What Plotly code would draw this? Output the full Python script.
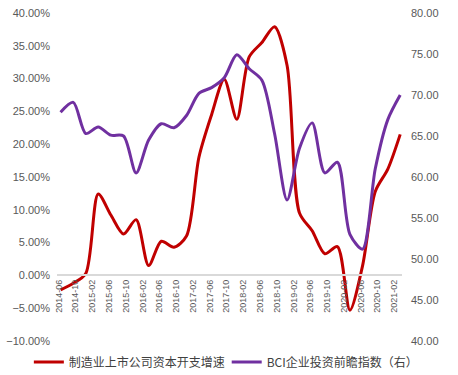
import plotly.graph_objects as go

dates = ["2014-06-15", "2014-09-15", "2014-12-15", "2015-03-15", "2015-06-15", "2015-09-15",
         "2015-12-15", "2016-03-15", "2016-06-15", "2016-09-15", "2016-12-15", "2017-03-15",
         "2017-06-15", "2017-09-15", "2017-12-15", "2018-03-15", "2018-06-15", "2018-09-15",
         "2018-12-15", "2019-03-15", "2019-06-15", "2019-09-15", "2019-12-15", "2020-03-15",
         "2020-06-15", "2020-09-15", "2020-12-15", "2021-03-15"]

capex_growth = [-2.2, -1.2, 0.3, 12.4, 9.2, 6.3, 8.5, 1.5, 5.2, 4.3, 6.0, 18.0,
                24.5, 29.9, 23.8, 33.3, 35.5, 37.9, 32.0, 9.5, 6.8, 3.3, 4.4, -5.3,
                1.5, 12.8, 16.2, 21.5]

bci_index = [67.9, 69.1, 65.3, 66.1, 65.1, 65.0, 60.5, 64.5, 66.5, 66.0, 67.5, 70.2,
             70.9, 72.1, 74.9, 73.2, 71.8, 65.3, 57.2, 63.5, 66.6, 60.5, 61.8, 53.0,
             51.2, 61.0, 67.0, 70.0]

name_red = "制造业上市公司资本开支增速"
name_purple = "BCI企业投资前瞻指数（右）"

fig = go.Figure()
fig.add_trace(go.Scatter(x=dates, y=[v / 100 for v in capex_growth], name=name_red,
                         mode="lines", line=dict(color="#C00000", width=3, shape="spline", smoothing=0.8),
                         yaxis="y", legend="legend"))
fig.add_trace(go.Scatter(x=dates, y=bci_index, name=name_purple,
                         mode="lines", line=dict(color="#7030A0", width=3, shape="spline", smoothing=0.8),
                         yaxis="y2", legend="legend2"))

tick_font = dict(family="Liberation Sans, Arial", size=11, color="#595959")
legend_font = dict(family="Noto Sans CJK SC", size=12, color="#404040")

fig.update_layout(
    width=458, height=375,
    margin=dict(l=57, r=56, t=13, b=34, autoexpand=False),
    paper_bgcolor="white", plot_bgcolor="white",
    showlegend=True,
    legend=dict(orientation="h", xref="container", yref="container",
                x=0.063, xanchor="left", y=0.035, yanchor="middle",
                font=legend_font, itemwidth=30),
    legend2=dict(orientation="h", xref="container", yref="container",
                 x=0.495, xanchor="left", y=0.035, yanchor="middle",
                 font=legend_font, itemwidth=30),
    xaxis=dict(type="date", range=["2014-05-20", "2021-03-28"],
               tickmode="linear", tick0="2014-06-01", dtick="M4", tickformat="%Y-%m",
               tickangle=-90, tickfont=dict(family="Liberation Sans, Arial", size=9, color="#595959"),
               showgrid=False, zeroline=False, showline=True, linecolor="#D9D9D9", linewidth=1.5,
               anchor="free", position=0.2, ticks=""),
    yaxis=dict(range=[-0.10, 0.40], dtick=0.05, tickformat=".2%", tickfont=tick_font,
               showgrid=False, zeroline=False, showline=False, ticks="", ticklabelstandoff=6),
    yaxis2=dict(range=[40, 80], dtick=5, tickformat=".2f", tickfont=tick_font,
                overlaying="y", side="right", showgrid=False, zeroline=False, showline=False,
                ticks="", ticklabelstandoff=8),
)

fig.write_html("out.html", config={"displayModeBar": False},
               post_script="document.body.style.margin='0';document.body.style.padding='0';")
